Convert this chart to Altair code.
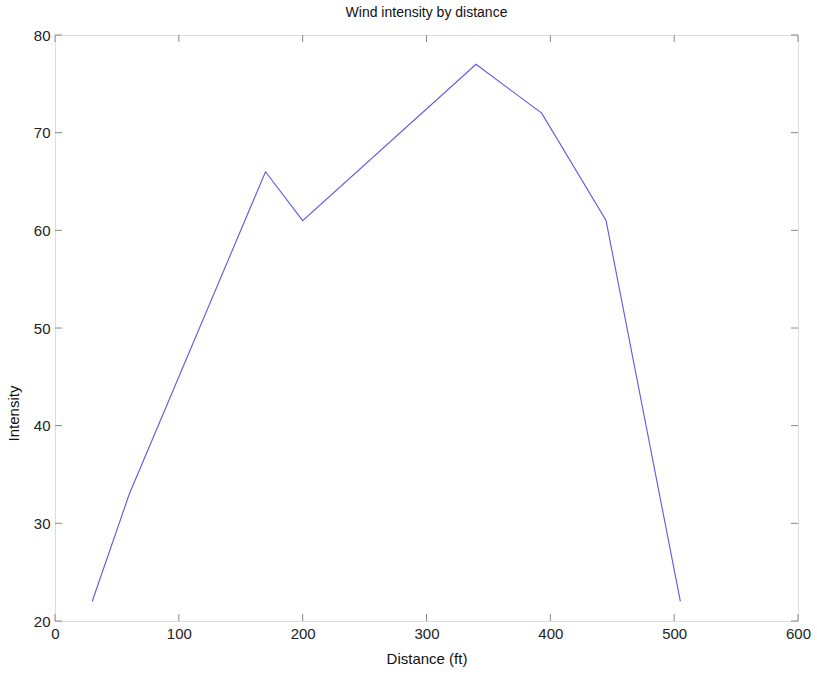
import altair as alt
import pandas as pd

distance = [30, 60, 170, 200, 340, 393, 445, 505]
intensity = [22, 33, 66, 61, 77, 72, 61, 22]
x_ticks = [0, 100, 200, 300, 400, 500, 600]
y_ticks = [20, 30, 40, 50, 60, 70, 80]

W, H = 743, 586
TICK = 7

df = pd.DataFrame({"Distance": distance, "Intensity": intensity})
xt = pd.DataFrame({"t": x_ticks})
yt = pd.DataFrame({"t": y_ticks})

xscale = alt.Scale(domain=[0, 600], nice=False, zero=False)
yscale = alt.Scale(domain=[20, 80], nice=False, zero=False)

font = "Liberation Sans"

line = alt.Chart(df).mark_line(color="#5a5ae0", strokeWidth=1.1).encode(
    x=alt.X("Distance:Q", scale=xscale,
            axis=alt.Axis(values=x_ticks, title="Distance (ft)", ticks=False,
                          domain=False, grid=False, labelPadding=5,
                          labelFontSize=15, titleFontSize=15, titleFontWeight="normal",
                          titlePadding=10, labelColor="#222", titleColor="#111",
                          labelFont=font, titleFont=font, labelFlush=False)),
    y=alt.Y("Intensity:Q", scale=yscale,
            axis=alt.Axis(values=y_ticks, title="Intensity", ticks=False,
                          domain=False, grid=False, labelPadding=5,
                          labelFontSize=15, titleFontSize=15, titleFontWeight="normal",
                          titleY=378, titleX=-34, labelColor="#222", titleColor="#111",
                          labelFont=font, titleFont=font, labelFlush=False)),
)

tick_color = "#888888"
xb = alt.Chart(xt).mark_rule(color=tick_color).encode(
    x=alt.X("t:Q", scale=xscale), y=alt.value(H), y2=alt.value(H - TICK))
xtop = alt.Chart(xt).mark_rule(color=tick_color).encode(
    x=alt.X("t:Q", scale=xscale), y=alt.value(0), y2=alt.value(TICK))
yl = alt.Chart(yt).mark_rule(color=tick_color).encode(
    y=alt.Y("t:Q", scale=yscale), x=alt.value(0), x2=alt.value(TICK))
yr = alt.Chart(yt).mark_rule(color=tick_color).encode(
    y=alt.Y("t:Q", scale=yscale), x=alt.value(W), x2=alt.value(W - TICK))

chart = alt.layer(xb, xtop, yl, yr, line).properties(
    width=W, height=H,
    title=alt.Title("Wind intensity by distance", fontSize=14, fontWeight="normal",
                    font=font, color="#111", offset=8),
    autosize=alt.AutoSizeParams(type="none"),
    padding={"left": 55, "top": 35, "right": 19, "bottom": 56},
).configure_view(stroke="#888888", strokeWidth=1.2).configure(background="white")

chart.save("out.html", embed_options={"renderer": "svg", "actions": False})
